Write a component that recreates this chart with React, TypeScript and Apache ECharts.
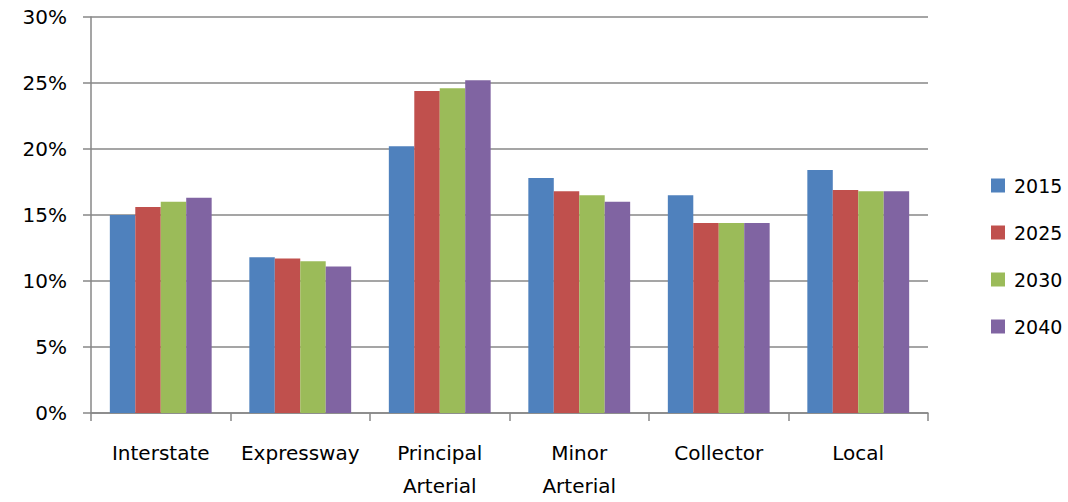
import React, { useEffect, useRef } from "react";
import * as echarts from "echarts";

const categories = ["Interstate", "Expressway", "Principal\nArterial", "Minor\nArterial", "Collector", "Local"];
const seriesNames = ["2015", "2025", "2030", "2040"];
const values2015 = [15.0, 11.8, 20.2, 17.8, 16.5, 18.4];
const values2025 = [15.6, 11.7, 24.4, 16.8, 14.4, 16.9];
const values2030 = [16.0, 11.5, 24.6, 16.5, 14.4, 16.8];
const values2040 = [16.3, 11.1, 25.2, 16.0, 14.4, 16.8];
const colors = ["#4F81BD", "#C0504D", "#9BBB59", "#8064A2"];

export default function App() {
  const ref = useRef<HTMLDivElement>(null);
  useEffect(() => {
    if (!ref.current) return;
    const chart = echarts.init(ref.current, null, { renderer: "svg" });
    const font = "DejaVu Sans";
    const gray = "#878787";
    const data = [values2015, values2025, values2030, values2040];
    chart.setOption({
      animation: false,
      backgroundColor: "#ffffff",
      textStyle: { fontFamily: font },
      grid: { left: 91, right: 140, top: 17, bottom: 84, containLabel: false },
      legend: {
        orient: "vertical",
        left: 991,
        top: 176,
        padding: 0,
        itemWidth: 14,
        itemHeight: 14,
        itemGap: 28,
        icon: "rect",
        data: seriesNames,
        textStyle: { fontFamily: font, fontSize: 19, color: "#000", padding: [0, 0, 0, 4] },
      },
      xAxis: {
        type: "category",
        data: categories,
        boundaryGap: true,
        axisLine: { lineStyle: { color: gray, width: 1.5 } },
        axisTick: { show: true, length: 8, lineStyle: { color: gray, width: 1.5 } },
        axisLabel: {
          fontFamily: font,
          fontSize: 20,
          color: "#000",
          margin: 23,
          lineHeight: 33,
          interval: 0,
        },
      },
      yAxis: {
        type: "value",
        min: 0,
        max: 30,
        interval: 5,
        axisLine: { show: true, lineStyle: { color: gray, width: 1.5 } },
        axisTick: { show: true, length: 8, lineStyle: { color: gray, width: 1.5 } },
        splitLine: { show: true, lineStyle: { color: gray, width: 1.5 } },
        axisLabel: {
          fontFamily: font,
          fontSize: 20,
          color: "#000",
          margin: 24,
          formatter: (v: number) => `${v}%`,
        },
      },
      series: seriesNames.map((name, i) => ({
        name,
        type: "bar",
        data: data[i],
        barGap: "0%",
        barCategoryGap: "27%",
        itemStyle: { color: colors[i] },
      })),
    });
    return () => chart.dispose();
  }, []);
  return <div ref={ref} style={{ width: 1068, height: 502, position: "absolute", left: 0, top: 0 }} />;
}
